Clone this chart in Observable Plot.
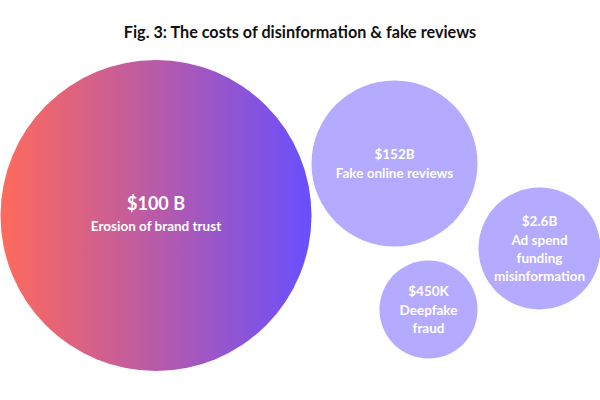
<!DOCTYPE html>
<html><head><meta charset="utf-8">
<script src="https://cdn.jsdelivr.net/npm/d3@7"></script>
<script src="https://cdn.jsdelivr.net/npm/@observablehq/plot@0.6"></script>
<style>
body{margin:0;background:#fff;font-family:Lato, "Noto Sans", sans-serif;}
#title{height:26px;padding-top:24px;text-align:center;font-weight:700;font-size:16.2px;line-height:16px;color:#111;}
#chart svg{display:block;}
</style></head><body>
<div id="title">Fig. 3: The costs of disinformation &amp; fake reviews</div>
<div id="chart"></div>
<script>
const categories = ["Erosion of brand trust", "Fake online reviews", "Ad spend\nfunding\nmisinformation", "Deepfake\nfraud"];
const valueLabels = ["$100 B", "$152B", "$2.6B", "$450K"];
const bubbleX = [155.5, 394, 539, 428];
const bubbleY = [215, 163, 248, 309];
const bubbleSize = [155.5, 83, 61, 49];

const rows = categories.map((c, i) => ({
  label: c, value: valueLabels[i], x: bubbleX[i], y: bubbleY[i], r: bubbleSize[i], big: i === 0
}));
rows.forEach(d => {
  const nLab = d.label.split("\n").length;
  const lh = d.big ? 22 : 18;
  d.valueY = d.y - nLab * lh / 2;
  d.labelY = d.valueY + lh + (nLab - 1) * lh / 2;
});

const gradientDefs = () => {
  const ns = "http://www.w3.org/2000/svg";
  const defs = document.createElementNS(ns, "defs");
  const lg = document.createElementNS(ns, "linearGradient");
  lg.setAttribute("id", "brandGrad");
  lg.setAttribute("x1", "0"); lg.setAttribute("x2", "1");
  lg.setAttribute("y1", "0"); lg.setAttribute("y2", "0");
  [["0%", "#ff6a5b"], ["50%", "#b85aa8"], ["100%", "#684fff"]].forEach(([o, c]) => {
    const s = document.createElementNS(ns, "stop");
    s.setAttribute("offset", o); s.setAttribute("stop-color", c);
    lg.appendChild(s);
  });
  defs.appendChild(lg);
  return defs;
};

const big = rows.filter(d => d.big);
const small = rows.filter(d => !d.big);

const chart = Plot.plot({
  width: 600,
  height: 350,
  margin: 0,
  x: {domain: [0, 600], axis: null},
  y: {domain: [50, 400], reverse: true, axis: null},
  r: {type: "identity"},
  style: {fontFamily: "Lato, 'Noto Sans', sans-serif", background: "white"},
  marks: [
    gradientDefs,
    Plot.dot(big, {x: "x", y: "y", r: "r", fill: "url(#brandGrad)", stroke: "none"}),
    Plot.dot(small, {x: "x", y: "y", r: "r", fill: "#b4aaff", stroke: "none"}),
    Plot.text(big, {x: "x", y: "valueY", text: "value", fill: "white", fontSize: 18, fontWeight: 700}),
    Plot.text(big, {x: "x", y: "labelY", text: "label", fill: "white", fontSize: 13.5, fontWeight: 700}),
    Plot.text(small, {x: "x", y: "valueY", text: "value", fill: "white", fontSize: 13.5, fontWeight: 700}),
    Plot.text(small, {x: "x", y: "labelY", text: "label", fill: "white", fontSize: 13.5, fontWeight: 700, lineHeight: 18 / 13.5})
  ]
});
document.getElementById("chart").appendChild(chart);
</script>
</body></html>
